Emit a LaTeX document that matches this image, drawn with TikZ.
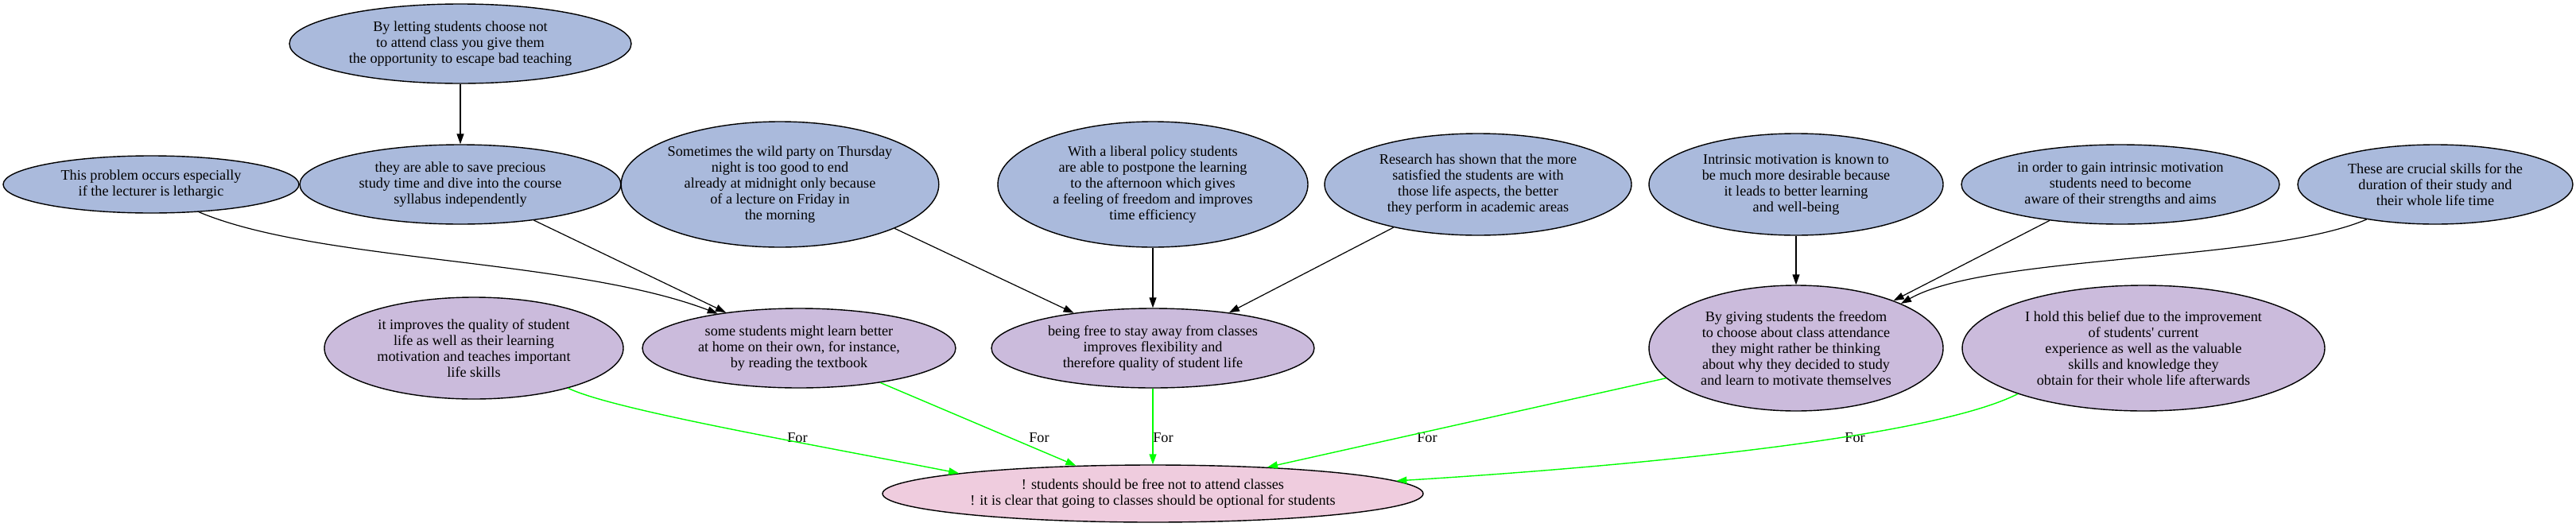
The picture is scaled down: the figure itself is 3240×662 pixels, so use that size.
\documentclass[tikz,border=0pt]{standalone}
\usepackage{fontspec}
\setmainfont{Liberation Serif}
\usepackage{xcolor}
\usetikzlibrary{shapes.geometric,arrows.meta}

\definecolor{premfill}{RGB}{170,186,220}
\definecolor{reasfill}{RGB}{203,187,220}
\definecolor{claimfill}{RGB}{239,204,222}
\definecolor{forgreen}{RGB}{0,255,0}

\begin{document}
\begin{tikzpicture}[
  x=1pt, y=-1pt,
  txt/.style={font=\fontsize{18.2}{20}\selectfont, align=center},
  bubble/.style={txt, ellipse, draw=black, line width=1.4pt, inner sep=0pt},
  premise/.style={bubble, fill=premfill},
  reason/.style={bubble, fill=reasfill},
  claim/.style={bubble, fill=claimfill},
  link/.style={-{Triangle[length=13pt,width=9pt]}, line width=1.2pt, black},
  forlink/.style={-{Triangle[length=13pt,width=9pt]}, line width=1.4pt, forgreen},
  forlabel/.style={txt, inner sep=0pt},
]
% Coordinates are pixels of the 3240 x 662 canvas, y grows downwards.
% Rows: y=55 (top premise), 232 (premises), 438 (reasons), 621 (claim)
\useasboundingbox (0,0) rectangle (3240,662);

% ─── Top premise ──────────────────────────────────────────────────────────
\node[premise, minimum width=430, minimum height=100] (letting) at (579,55)
  {By letting students choose not\\to attend class you give them\\the opportunity to escape bad teaching};

% ─── Premises ─────────────────────────────────────────────────────────────
\node[premise, minimum width=372, minimum height=72] (lethargic) at (190,232)
  {This problem occurs especially\\if the lecturer is lethargic};
\node[premise, minimum width=404, minimum height=100] (savetime) at (579,232)
  {they are able to save precious\\study time and dive into the course\\syllabus independently};
\node[premise, minimum width=390, minimum height=158] (party) at (981,232)
  {Sometimes the wild party on Thursday\\night is too good to end\\already at midnight only because\\of a lecture on Friday in\\the morning};
\node[premise, minimum width=390, minimum height=158] (postpone) at (1450,232)
  {With a liberal policy students\\are able to postpone the learning\\to the afternoon which gives\\a feeling of freedom and improves\\time efficiency};
\node[premise, minimum width=386, minimum height=128] (research) at (1859,232)
  {Research has shown that the more\\satisfied the students are with\\those life aspects, the better\\they perform in academic areas};
\node[premise, minimum width=370, minimum height=128] (intrinsic) at (2259,232)
  {Intrinsic motivation is known to\\be much more desirable because\\it leads to better learning\\and well-being};
\node[premise, minimum width=400, minimum height=100] (aware) at (2667,232)
  {in order to gain intrinsic motivation\\students need to become\\aware of their strengths and aims};
\node[premise, minimum width=346, minimum height=100] (skills) at (3063,232)
  {These are crucial skills for the\\duration of their study and\\their whole life time};

% ─── Reasons ──────────────────────────────────────────────────────────────
\node[reason, minimum width=376, minimum height=128] (quality) at (596,438)
  {it improves the quality of student\\life as well as their learning\\motivation and teaches important\\life skills};
\node[reason, minimum width=394, minimum height=100] (athome) at (1005,438)
  {some students might learn better\\at home on their own, for instance,\\by reading the textbook};
\node[reason, minimum width=406, minimum height=100] (flexible) at (1450,438)
  {being free to stay away from classes\\improves flexibility and\\therefore quality of student life};
\node[reason, minimum width=370, minimum height=158] (freedom) at (2259,438)
  {By giving students the freedom\\to choose about class attendance\\they might rather be thinking\\about why they decided to study\\and learn to motivate themselves};
\node[reason, minimum width=456, minimum height=158] (belief) at (2696,438)
  {I hold this belief due to the improvement\\of students\textquotesingle{} current\\experience as well as the valuable\\skills and knowledge they\\obtain for their whole life afterwards};

% ─── Claim ────────────────────────────────────────────────────────────────
\node[claim, minimum width=680, minimum height=72] (optional) at (1450,621)
  {! students should be free not to attend classes\\! it is clear that going to classes should be optional for students};

% ─── Support edges ────────────────────────────────────────────────────────
\draw[link] (letting.south) -- (savetime.north);
\draw[link] (lethargic.-30) .. controls (400,330) and (720,325) .. (athome.157);
\draw[link] (savetime.-26) -- (athome.154);
\draw[link] (party.-21) -- (flexible.156);
\draw[link] (postpone.south) -- (flexible.north);
\draw[link] (research.-153) -- (flexible.25);
\draw[link] (intrinsic.south) -- (freedom.north);
\draw[link] (aware.-153) -- (freedom.26);
\draw[link] (skills.-153) .. controls (2850,330) and (2500,320) .. (freedom.23);

% ─── For edges ────────────────────────────────────────────────────────────
\node[forlabel] (forquality) at (1003,551) {For};
\node[forlabel] (forathome) at (1307,551) {For};
\node[forlabel] (forflexible) at (1463,551) {For};
\node[forlabel] (forfreedom) at (1795,551) {For};
\node[forlabel] (forbelief) at (2333,551) {For};

\draw[forlink] (quality.-23) .. controls (770,515) and (1000,555) .. (optional.174);
\draw[forlink] (athome.-23) -- (optional.160);
\draw[forlink] (flexible.south) -- (optional.north);
\draw[forlink] (freedom.-167) -- (optional.13);
\draw[forlink] (belief.-160) .. controls (2420,555) and (2000,590) .. (optional.3);

\end{tikzpicture}
\end{document}
